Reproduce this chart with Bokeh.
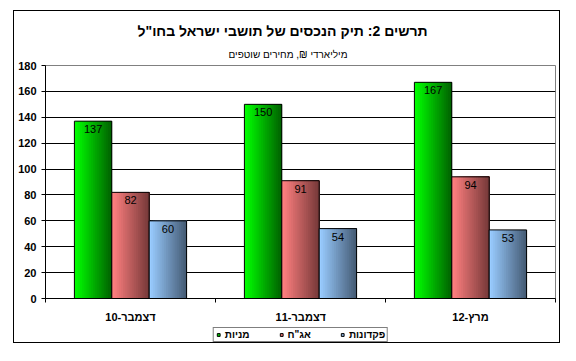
from bokeh.plotting import figure
from bokeh.models import (ColumnDataSource, FixedTicker, LabelSet, Legend, LegendItem, Range1d, Title)
from bokeh.embed import file_html
from bokeh.resources import INLINE
from bokeh.core.properties import value

# ---- data ----
categories = ["דצמבר-10", "דצמבר-11", "מרץ-12"]
series_names = ["מניות", "אג\"ח", "פקדונות"]
stocks = [137, 150, 167]
bonds = [82, 91, 94]
deposits = [60, 54, 53]
y_ticks = [0, 20, 40, 60, 80, 100, 120, 140, 160, 180]
title_text = "תרשים 2: תיק הנכסים של תושבי ישראל בחו\"ל"
subtitle_text = "מיליארדי ₪, מחירים שוטפים"

series_values = [stocks, bonds, deposits]
light_colors = [(0, 255, 0), (255, 128, 128), (153, 204, 255)]
dark_colors = [(0, 100, 0), (120, 58, 58), (70, 92, 118)]
legend_colors = ["#00cc00", "#e87070", "#88b0dd"]

p = figure(frame_width=510, frame_height=233, output_backend="svg", toolbar_location=None,
           x_range=Range1d(0, len(categories)), y_range=Range1d(0, 180),
           min_border_left=31, min_border_right=4, min_border_top=54, min_border_bottom=0)
p.styles = {"border": "1px solid black", "height": "333px", "overflow": "hidden"}
p.margin = (10, 0, 0, 13)
p.background_fill_color = "white"
p.border_fill_color = "white"
p.outline_line_color = "#808080"
p.outline_line_width = 1
p.xgrid.visible = False
p.ygrid.ticker = FixedTicker(ticks=y_ticks[1:-1])
p.ygrid.grid_line_color = "black"
p.ygrid.grid_line_width = 1

# titles (subtitle added first so it sits nearest the plot area)
p.add_layout(Title(text=subtitle_text, align="left", offset=183, standoff=11,
                   text_font="Liberation Sans", text_font_style="normal",
                   text_font_size="10px", text_color="#000000"), "above")
p.add_layout(Title(text=title_text, align="left", offset=92, standoff=6,
                   text_font="Liberation Sans", text_font_style="bold",
                   text_font_size="14px", text_color="#000000"), "above")

# y axis
p.yaxis.ticker = FixedTicker(ticks=y_ticks)
p.yaxis.axis_line_color = "black"
p.yaxis.major_tick_line_color = "black"
p.yaxis.major_tick_in = 0
p.yaxis.major_tick_out = 4
p.yaxis.minor_tick_line_color = None
p.yaxis.major_label_standoff = 5
p.yaxis.major_label_text_font = "Liberation Sans"
p.yaxis.major_label_text_font_style = "bold"
p.yaxis.major_label_text_font_size = "11px"
p.yaxis.major_label_text_color = "black"

# x axis: labels at category centers, boundary ticks as minor ticks
centers = [i + 0.5 for i in range(len(categories))]
bounds = [float(i) for i in range(len(categories) + 1)]
p.xaxis.ticker = FixedTicker(ticks=centers, minor_ticks=bounds)
p.xaxis.major_label_overrides = {c: lab for c, lab in zip(centers, categories)}
p.xaxis.major_tick_line_color = None
p.xaxis.minor_tick_line_color = "black"
p.xaxis.minor_tick_in = 0
p.xaxis.minor_tick_out = 4
p.xaxis.axis_line_color = "black"
p.xaxis.major_label_standoff = 6
p.xaxis.major_label_text_font = "Liberation Sans"
p.xaxis.major_label_text_font_style = "bold"
p.xaxis.major_label_text_font_size = "11px"
p.xaxis.major_label_text_color = "black"

# bars with horizontal gradient made of overlapping strips
bar_w = 0.22
offsets = [-bar_w, 0.0, bar_w]
n_strips = 20
legend_items = []
for s, (vals, lc, dc, off) in enumerate(zip(series_values, light_colors, dark_colors, offsets)):
    lefts, rights, tops, cols = [], [], [], []
    for i, v in enumerate(vals):
        x0 = centers[i] + off - bar_w / 2
        for k in range(n_strips):
            t = k / (n_strips - 1)
            c = tuple(int(round(lc[j] + (dc[j] - lc[j]) * t)) for j in range(3))
            lefts.append(x0 + bar_w * k / n_strips)
            rights.append(x0 + bar_w)
            tops.append(v)
            cols.append("#%02x%02x%02x" % c)
    src = ColumnDataSource(dict(left=lefts, right=rights, top=tops, bottom=[0] * len(tops), color=cols))
    p.quad(left="left", right="right", top="top", bottom="bottom", fill_color="color",
           line_color=None, source=src)
    osrc = ColumnDataSource(dict(x=[c + off for c in centers], top=vals,
                                 lab=[str(v) for v in vals]))
    p.vbar(x="x", top="top", width=bar_w, fill_color=None, line_color="black", line_width=1, source=osrc)
    p.add_layout(LabelSet(x="x", y="top", text="lab", source=osrc, y_offset=-4,
                          text_align="center", text_baseline="top",
                          text_font=value("Liberation Sans"), text_font_size="11px",
                          text_color="black"))
    r = p.scatter(x=[centers[0]], y=[-100], marker="square", size=7,
                  fill_color=legend_colors[s], line_color="black")
    legend_items.append(LegendItem(label=series_names[s], renderers=[r]))

legend = Legend(items=legend_items, orientation="horizontal", location="top_center",
                padding=1, spacing=28, margin=0, label_standoff=3,
                glyph_width=7, glyph_height=7, label_height=10,
                label_text_font="Liberation Sans", label_text_font_style="bold",
                label_text_font_size="10px", label_text_color="black",
                border_line_color="black", border_line_width=1, background_fill_alpha=1)
p.add_layout(legend, "below")

open("out.html", "w").write(file_html(p, INLINE))
